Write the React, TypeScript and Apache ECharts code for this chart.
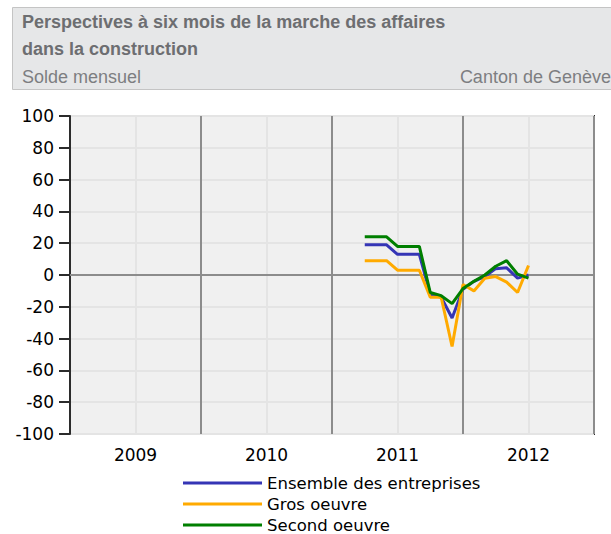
import React, { useEffect, useRef } from "react";
import * as echarts from "echarts";

const startYear = 2009;
const yearLabels = ["2009", "2010", "2011", "2012"];
const months = [
  "2011-04", "2011-05", "2011-06", "2011-07", "2011-08", "2011-09", "2011-10", "2011-11",
  "2011-12", "2012-01", "2012-02", "2012-03", "2012-04", "2012-05", "2012-06", "2012-07",
];
const ensemble = [19, 19, 19, 13, 13, 13, -12, -14, -27, -9, -4, -1, 4, 4.5, -2, 0];
const grosOeuvre = [9, 9, 9, 3, 3, 3, -14, -14, -45, -6, -10, -2, -1, -4.5, -11, 6];
const secondOeuvre = [24, 24, 24, 18, 18, 18, -11, -13, -18, -8.5, -4, 0, 5.5, 9, 0.5, -2];
const seriesNames = ["Ensemble des entreprises", "Gros oeuvre", "Second oeuvre"];
const seriesColors = ["#3535b5", "#ffaa00", "#007f00"];

function toX(m: string): number {
  const [y, mo] = m.split("-").map(Number);
  return (y - startYear) * 12 + (mo - 1);
}

export default function App() {
  const ref = useRef<HTMLDivElement>(null);
  useEffect(() => {
    if (!ref.current) return;
    const chart = echarts.init(ref.current, null, { renderer: "svg" });
    const font = "DejaVu Sans";
    const hfont = "'Liberation Sans', Arial, sans-serif";
    const mk = (vals: number[]) => months.map((m, i) => [toX(m), vals[i]]);
    const allVals = [ensemble, grosOeuvre, secondOeuvre];
    chart.setOption({
      animation: false,
      backgroundColor: "#ffffff",
      graphic: [
        {
          type: "rect",
          shape: { x: 12.5, y: 7.5, width: 610, height: 82 },
          style: { fill: "#e6e7e8", stroke: "#c4c4c4", lineWidth: 1 },
          silent: true,
        },
        {
          type: "text",
          x: 22, y: 22,
          style: { text: "Perspectives à six mois de la marche des affaires", fill: "#6d6e71", font: "bold 18px " + hfont, verticalAlign: "middle" },
        },
        {
          type: "text",
          x: 22, y: 49,
          style: { text: "dans la construction", fill: "#6d6e71", font: "bold 18px " + hfont, verticalAlign: "middle" },
        },
        {
          type: "text",
          x: 22, y: 77,
          style: { text: "Solde mensuel", fill: "#7d7e81", font: "18px " + hfont, verticalAlign: "middle" },
        },
        {
          type: "text",
          x: 611, y: 77,
          style: { text: "Canton de Genève", fill: "#7d7e81", font: "18px " + hfont, verticalAlign: "middle", align: "right" },
        },
      ],
      grid: {
        left: 70, top: 116, right: 17, bottom: 100,
        show: true, backgroundColor: "#f0f0f0", borderColor: "#2b2b2b", borderWidth: 2,
      },
      xAxis: [
        {
          type: "value", min: 0, max: 48, interval: 6,
          axisLine: { show: false }, axisTick: { show: false },
          axisLabel: {
            color: "#000", fontFamily: font, fontSize: 17, margin: 12,
            formatter: (v: number) => (v % 12 === 6 ? yearLabels[(v - 6) / 12] : ""),
          },
          splitLine: { show: true, lineStyle: { color: ["rgba(0,0,0,0)", "#e4e4e4"], width: 2 } },
        },
        {
          type: "value", min: 0, max: 48, interval: 12, position: "bottom",
          axisLine: { show: false }, axisTick: { show: false }, axisLabel: { show: false },
          splitLine: { show: true, lineStyle: { color: "#8c8c8c", width: 2 } },
        },
      ],
      yAxis: {
        type: "value", min: -100, max: 100, interval: 20,
        axisLine: { show: true, lineStyle: { color: "#2b2b2b", width: 2 } },
        axisTick: { show: true, length: 11, lineStyle: { color: "#2b2b2b", width: 2 } },
        axisLabel: { color: "#000", fontFamily: font, fontSize: 17, margin: 16 },
        splitLine: { show: true, lineStyle: { color: "#e4e4e4", width: 2 } },
      },
      legend: {
        orient: "vertical", left: 183, top: 474, padding: 0, itemWidth: 79, itemHeight: 3, itemGap: 3,
        icon: "rect",
        textStyle: { fontFamily: font, fontSize: 16.5, lineHeight: 18, color: "#000", padding: [0, 0, 0, 0] },
        data: seriesNames,
      },
      series: seriesNames.map((name, i) => ({
        name, type: "line", data: mk(allVals[i]), xAxisIndex: 0,
        showSymbol: false, symbol: "none",
        lineStyle: { color: seriesColors[i], width: 3 },
        itemStyle: { color: seriesColors[i] },
        z: 3 + i,
        markLine: i === 0 ? {
          silent: true, symbol: "none", label: { show: false },
          lineStyle: { color: "#8c8c8c", width: 2, type: "solid" },
          data: [{ yAxis: 0 }],
          z: 2,
        } : undefined,
      })),
    });
    return () => chart.dispose();
  }, []);
  return <div ref={ref} style={{ position: "fixed", left: 0, top: 0, width: 611, height: 534 }} />;
}
